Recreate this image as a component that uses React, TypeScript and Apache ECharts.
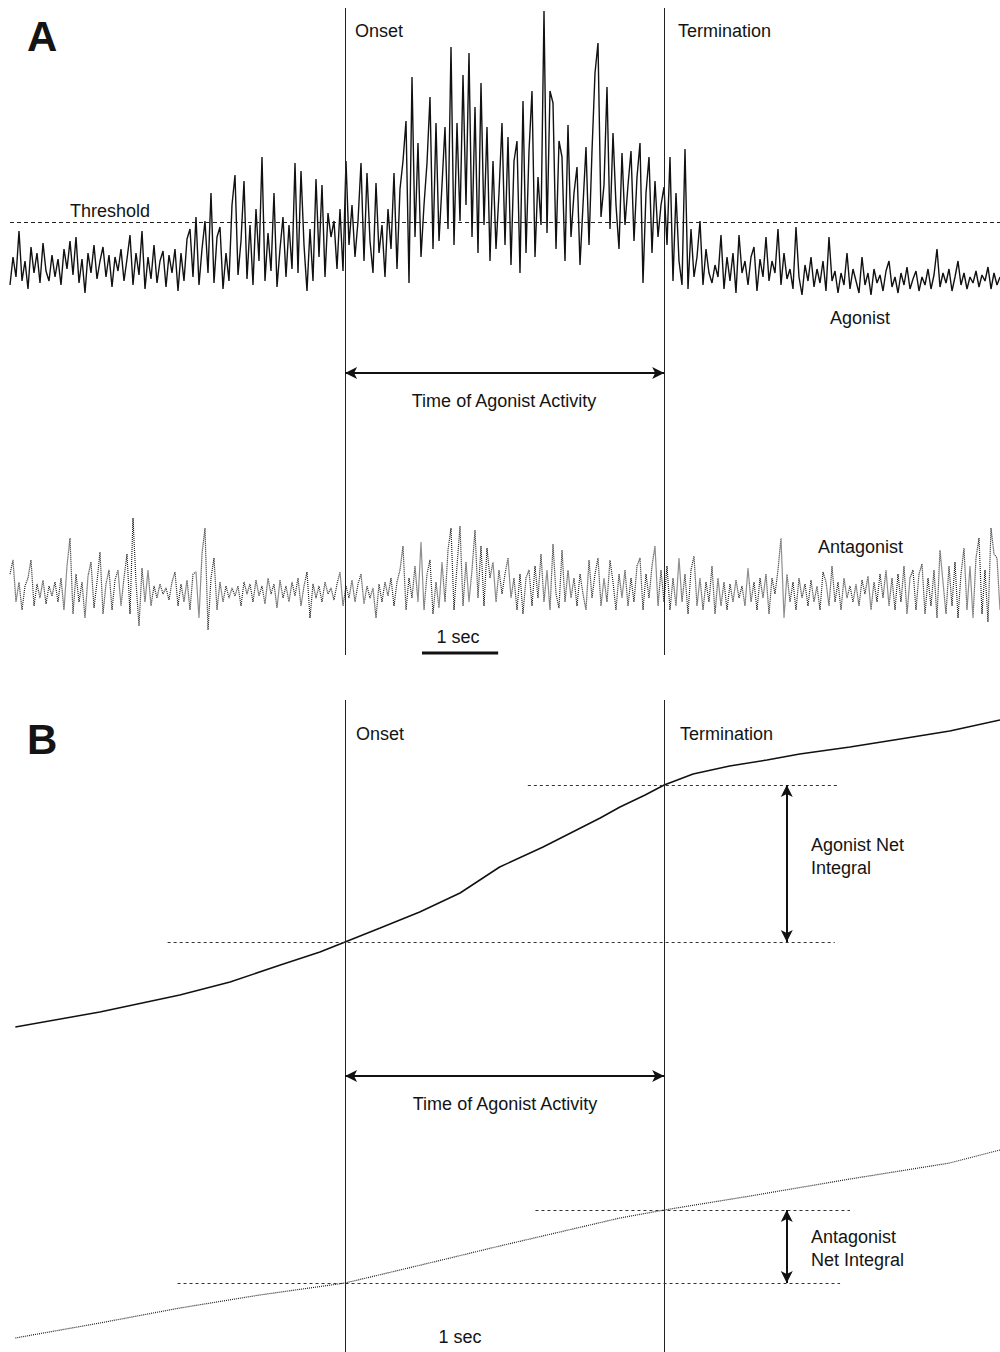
import { useEffect, useRef } from "react";
import * as echarts from "echarts";

// ---- time base (seconds) ----
const DURATION = 13;
const ONSET = 4.4;
const TERMINATION = 8.59;
const SCALE_BAR = [5.41, 6.41];
const THRESHOLD = 21.5;

// ---- Panel A: raw EMG (arbitrary units, evenly sampled over DURATION) ----
const AGONIST_EMG = [
  -10, 4, -6, 17, -8, 2, -12, 9, -4, 6,
  -9, 11, -3, -8, 5, -6, 3, -10, 8, -2,
  12, -5, 14, -9, 3, -14, 6, -4, 10, -7,
  2, 9, -6, 5, -11, 4, -3, 8, -8, 3,
  15, -10, 6, -5, 17, -12, 4, -7, 10, -9,
  2, 7, -11, 5, -4, 8, -13, 6, -8, 13,
  18, -6, 24, -10, 8, 22, -4, 36, -9, 14,
  19, -12, 6, -8, 30, 45, -5, 12, 42, -7,
  20, -10, 28, 2, 54, -8, 16, -3, 36, -11,
  8, 24, -6, 20, -2, 51, -4, 47, 10, -13,
  18, -8, 43, 4, 40, -6, 26, 14, 22, -2,
  28, -3, 52, 10, 30, 4, 22, 51, 2, 46,
  12, -4, 41, 6, 20, -6, 28, 8, 46, -2,
  38, 52, 72, -9, 94, 14, 61, 4, 30, 51,
  84, 8, 71, 12, 40, 69, 18, 109, 10, 71,
  22, 95, 30, 106, 14, 79, 6, 91, 20, 69,
  2, 52, 8, 36, 71, 10, 64, 0, 52, 62,
  -4, 82, 6, 57, 87, 4, 44, 20, 127, 16,
  87, 81, 8, 62, 54, 2, 70, 14, 36, 49,
  0, 30, 59, 10, 57, 96, 111, 24, 40, 89,
  18, 66, 30, 8, 56, 20, 40, 57, 12, 44,
  61, -9, 36, 54, 6, 42, 14, 30, 39, 10,
  54, -8, 36, 2, -10, 58, -12, 18, -6, 4,
  22, -10, 8, -4, -9, 0, -6, 15, -12, 4,
  -8, 6, -14, 15, -4, 2, -10, 4, 9, -13,
  3, -6, 14, -8, 2, -4, 18, -10, 6, -7,
  -2, -12, 19, -6, -15, 0, -8, 4, -11, -2,
  -9, 2, -13, 14, -8, -3, -14, -4, -10, 6,
  -12, -2, -8, -14, 4, -10, -4, -15, -2, -9,
  -5, -13, -3, 2, -11, -6, -14, -4, -10, -1,
  -12, -7, -3, -13, -6, -10, -2, -12, -5, 8,
  -11, -4, -9, -2, -13, -6, 2, -10, -4, -12,
  -6, -9, -3, -11, -5, -8, -1, -12, -4, -10,
  -6,
];

const ANTAGONIST_EMG = [
  8, 15, -6, 4, -10, 2, 6, 15, -8, 3,
  -4, 5, -7, 2, -3, 4, -6, 6, -10, 12,
  26, -12, 8, -6, 4, -14, 7, 14, -9, 4,
  19, -12, 3, 10, -10, 5, 10, -8, 6, 18,
  -12, 36, 4, -18, 11, -6, 10, -8, 2, -4,
  3, -2, 1, -5, 4, 9, -8, 3, -6, 5,
  -10, 8, 9, -14, 18, 31, -20, 6, 16, -10,
  4, -6, 2, -4, 1, -3, 2, -8, 4, -2,
  3, -6, 5, -3, 2, -7, 6, -2, 3, -9,
  5, -4, 2, -6, 4, -3, 6, -8, 2, 9,
  -14, 3, -4, 2, -6, 4, -2, 1, -5, 3,
  9, -8, 2, -4, 5, -6, 3, 8, -7, 2,
  -4, 1, -14, 3, -6, 4, -3, 6, -8, 4,
  10, 22, -10, 6, -4, 12, -6, 24, -10, 8,
  15, -12, 4, -9, 14, -6, 20, 31, -10, 12,
  32, -8, 14, -6, 10, 30, -4, 22, -8, 21,
  6, 14, -6, 10, -2, 8, 16, -4, 6, -10,
  8, -12, 6, 10, -8, 12, -4, 18, -6, 10,
  -10, 23, -2, -9, 20, -6, 10, -4, 6, -8,
  8, -2, -10, 15, -4, 8, 16, -8, 6, -6,
  15, 4, -10, 8, -4, 10, -8, 6, -6, 12,
  16, -10, 8, -4, 12, 22, -8, 10, -6, 12,
  -10, 6, -8, 16, -6, 8, -12, 10, 17, -8,
  6, -10, 4, -6, 12, -12, 6, -8, 4, -10,
  3, -6, 5, -4, 2, -8, 11, -6, 4, -10,
  6, -4, 8, -12, 6, -2, 10, 26, -14, 8,
  -6, 4, -10, 6, -4, 3, -8, 5, -6, 2,
  -10, 9, 4, -8, 12, -6, 4, -10, 6, -4,
  2, -6, 3, -8, 5, -2, 7, -10, 4, -6,
  8, -4, 10, -8, 6, -10, 8, -6, 12, -12,
  6, 10, -10, 8, 13, -12, 6, -8, 10, -14,
  20, 4, -12, 12, -8, 14, -14, 8, 21, -10,
  12, -14, 16, 26, -12, 10, -16, 31, 18, 16,
  -10,
];

// ---- Panel B: integrated EMG ----
const AG_INT_T = [0.07, 1.18, 2.23, 2.89, 3.55, 4.07, 4.4, 4.86, 5.38, 5.91, 6.43, 7.0, 7.75, 8.01, 8.34, 8.59, 8.97, 9.45, 9.94, 10.37, 11.03, 11.69, 12.34, 13.0];
const AG_INT = [32.5, 34.0, 35.7, 37.0, 38.7, 40.0, 41.0, 42.4, 44.0, 45.9, 48.5, 50.5, 53.4, 54.5, 55.7, 56.7, 57.8, 58.6, 59.2, 59.8, 60.5, 61.3, 62.1, 63.2];
const ANT_INT_T = [0.07, 1.18, 2.23, 3.28, 4.4, 5.12, 5.78, 6.43, 7.22, 8.01, 8.59, 9.72, 11.03, 12.34, 13.0];
const ANT_INT = [1.4, 2.9, 4.4, 5.7, 6.9, 8.2, 9.4, 10.6, 12.0, 13.4, 14.2, 15.6, 17.3, 18.9, 20.2];

const AG_AT_ONSET = 41.0;
const AG_AT_TERM = 56.7;
const ANT_AT_ONSET = 6.9;
const ANT_AT_TERM = 14.2;

const FONT = "'Liberation Sans', Arial, Helvetica, sans-serif";
const INK = "#141414";

function emgPoints(values: number[]) {
  const dt = DURATION / (values.length - 1);
  return values.map((v, i) => [i * dt, v]);
}
function pairs(t: number[], v: number[]) {
  return t.map((x, i) => [x, v[i]]);
}

function label(text: string, x: number, y: number, align = "left", size = 18, bold = false) {
  return {
    type: "text",
    x,
    y,
    silent: true,
    style: {
      text,
      fill: INK,
      font: `${bold ? "bold " : ""}${size}px ${FONT}`,
      textAlign: align,
      textVerticalAlign: "middle",
    },
  };
}

export default function App() {
  const ref = useRef<HTMLDivElement>(null);
  useEffect(() => {
    if (!ref.current) return;
    const chart = echarts.init(ref.current, null, { renderer: "svg" });
    const xAx = (gi: number) => ({ type: "value", gridIndex: gi, min: 0, max: DURATION, show: false });
    const yAx = (gi: number, min: number, max: number) => ({ type: "value", gridIndex: gi, min, max, show: false });
    const arrow = (a: number[], b: number[]) => [
      { coord: a, symbol: "arrow", symbolSize: [9, 12] },
      { coord: b, symbol: "arrow", symbolSize: [9, 12] },
    ];
    const dashed = (a: number[], b: number[]) => [
      { coord: a, lineStyle: { type: [3, 3], width: 1, color: "#333" } },
      { coord: b },
    ];
    const vline = (t: number) => ({ xAxis: t, lineStyle: { width: 1, color: "#222", type: "solid" } });

    const option: any = {
      animation: false,
      backgroundColor: "#ffffff",
      grid: [
        { left: 10, top: 5, width: 990, height: 300 },
        { left: 10, top: 505, width: 990, height: 140 },
        { left: 10, top: 8, width: 990, height: 647 },
        { left: 10, top: 700, width: 990, height: 652 },
      ],
      xAxis: [xAx(0), xAx(1), xAx(2), xAx(3)],
      yAxis: [yAx(0, -20, 130), yAx(1, -27.5, 42.5), yAx(2, 0, 64.7), yAx(3, 0, 65.2)],
      series: [
        {
          type: "line",
          xAxisIndex: 0,
          yAxisIndex: 0,
          data: emgPoints(AGONIST_EMG),
          symbol: "none",
          lineStyle: { color: "#111", width: 1.4 },
          z: 3,
          markLine: {
            silent: true,
            symbol: ["none", "none"],
            label: { show: false },
            lineStyle: { type: [4, 3], width: 1, color: "#222" },
            data: [{ yAxis: THRESHOLD }],
          },
        },
        {
          type: "line",
          xAxisIndex: 1,
          yAxisIndex: 1,
          data: emgPoints(ANTAGONIST_EMG),
          symbol: "none",
          lineStyle: { color: "#1e1e1e", width: 1.2, type: [1, 1] },
          z: 3,
        },
        {
          type: "line",
          xAxisIndex: 2,
          yAxisIndex: 2,
          data: [
            [SCALE_BAR[0], 0.2],
            [SCALE_BAR[1], 0.2],
          ],
          symbol: "none",
          lineStyle: { color: "#111", width: 3 },
          markLine: {
            silent: true,
            symbol: ["none", "none"],
            label: { show: false },
            lineStyle: { width: 2, color: "#111", type: "solid" },
            data: [vline(ONSET), vline(TERMINATION), arrow([ONSET, 28.2], [TERMINATION, 28.2])],
          },
        },
        {
          type: "line",
          xAxisIndex: 3,
          yAxisIndex: 3,
          data: pairs(AG_INT_T, AG_INT),
          symbol: "none",
          smooth: false,
          lineStyle: { color: "#111", width: 1.5 },
          z: 3,
          markLine: {
            silent: true,
            symbol: ["none", "none"],
            label: { show: false },
            lineStyle: { width: 2, color: "#111", type: "solid" },
            data: [
              vline(ONSET),
              vline(TERMINATION),
              dashed([2.07, AG_AT_ONSET], [10.83, AG_AT_ONSET]),
              dashed([6.8, AG_AT_TERM], [10.87, AG_AT_TERM]),
              dashed([2.2, ANT_AT_ONSET], [10.9, ANT_AT_ONSET]),
              dashed([6.9, ANT_AT_TERM], [11.03, ANT_AT_TERM]),
              arrow([ONSET, 27.6], [TERMINATION, 27.6]),
              arrow([10.2, AG_AT_ONSET], [10.2, AG_AT_TERM]),
              arrow([10.2, ANT_AT_ONSET], [10.2, ANT_AT_TERM]),
            ],
          },
        },
        {
          type: "line",
          xAxisIndex: 3,
          yAxisIndex: 3,
          data: pairs(ANT_INT_T, ANT_INT),
          symbol: "none",
          smooth: false,
          lineStyle: { color: "#1e1e1e", width: 1.2, type: [1, 1] },
          z: 3,
        },
      ],
      graphic: [
        label("A", 27, 36, "left", 42, true),
        label("Onset", 355, 31),
        label("Termination", 678, 31),
        label("Threshold", 70, 211),
        label("Agonist", 830, 318),
        label("Time of Agonist Activity", 504, 401, "center"),
        label("Antagonist", 818, 547),
        label("1 sec", 458, 637, "center"),
        label("B", 27, 739, "left", 42, true),
        label("Onset", 356, 734),
        label("Termination", 680, 734),
        label("Agonist Net", 811, 845),
        label("Integral", 811, 868),
        label("Time of Agonist Activity", 505, 1104, "center"),
        label("Antagonist", 811, 1237),
        label("Net Integral", 811, 1260),
        label("1 sec", 460, 1337, "center"),
      ],
    };
    chart.setOption(option);
    return () => chart.dispose();
  }, []);
  return (
    <div
      ref={ref}
      style={{ position: "absolute", left: 0, top: 0, width: 1000, height: 1352, background: "#fff" }}
    />
  );
}
